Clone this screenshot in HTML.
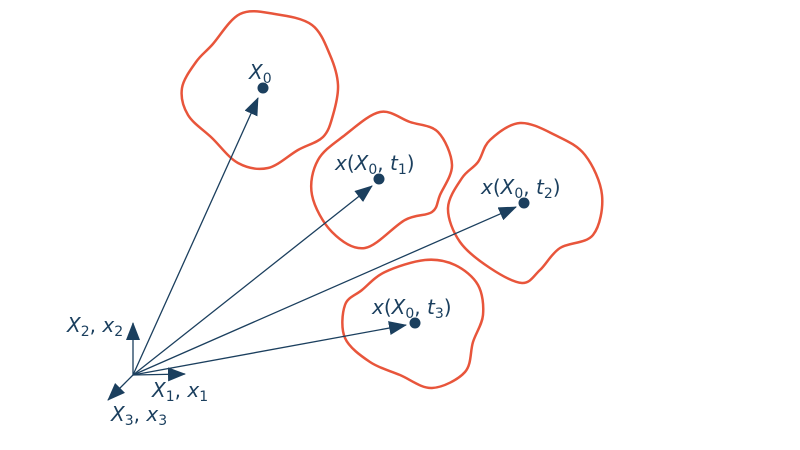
<!DOCTYPE html>
<html><head><meta charset="utf-8"><style>
html,body{margin:0;padding:0;background:#fff;}
svg{display:block;}
text{font-family:"DejaVu Sans","Liberation Sans",sans-serif;fill:#1b3f5e;}
.i{font-style:oblique;}
</style></head><body>
<svg id="s" width="800" height="450" viewBox="0 0 800 450" xmlns="http://www.w3.org/2000/svg">
<defs>
<marker id="b" markerWidth="18" markerHeight="14" refX="17" refY="7" orient="auto" markerUnits="userSpaceOnUse">
<path d="M0,0 L18,7 L0,14 Z" fill="#1b3f5e"/>
</marker>
</defs>
<g id="blobs" fill="none" stroke="#e8553b" stroke-width="2.5"></g>
<g stroke="#1b3f5e" stroke-width="1.3">
<line x1="133" y1="375" x2="258" y2="98" marker-end="url(#b)"/>
<line x1="133" y1="375" x2="372" y2="186" marker-end="url(#b)"/>
<line x1="133" y1="375" x2="516" y2="207" marker-end="url(#b)"/>
<line x1="133" y1="375" x2="406" y2="325" marker-end="url(#b)"/>
<line x1="133" y1="375" x2="133" y2="323" marker-end="url(#b)"/>
<line x1="133" y1="375" x2="185" y2="374" marker-end="url(#b)"/>
<line x1="133" y1="375" x2="108" y2="400" marker-end="url(#b)"/>
</g>
<g fill="#1b3f5e">
<circle cx="263" cy="88" r="5.5"/>
<circle cx="379" cy="179" r="5.5"/>
<circle cx="524" cy="203" r="5.5"/>
<circle cx="415" cy="323" r="5.5"/>
</g>
<g font-size="20">
<text x="249" y="79"><tspan class="i">X</tspan><tspan font-size="14" dy="4">0</tspan></text>
<text x="335" y="170"><tspan class="i">x</tspan>(<tspan class="i">X</tspan><tspan font-size="14" dy="4">0</tspan><tspan dy="-4">, </tspan><tspan class="i">t</tspan><tspan font-size="14" dy="4">1</tspan><tspan dy="-4">)</tspan></text>
<text x="481" y="194"><tspan class="i">x</tspan>(<tspan class="i">X</tspan><tspan font-size="14" dy="4">0</tspan><tspan dy="-4">, </tspan><tspan class="i">t</tspan><tspan font-size="14" dy="4">2</tspan><tspan dy="-4">)</tspan></text>
<text x="372" y="314"><tspan class="i">x</tspan>(<tspan class="i">X</tspan><tspan font-size="14" dy="4">0</tspan><tspan dy="-4">, </tspan><tspan class="i">t</tspan><tspan font-size="14" dy="4">3</tspan><tspan dy="-4">)</tspan></text>
<text x="67" y="332"><tspan class="i">X</tspan><tspan font-size="14" dy="4">2</tspan><tspan dy="-4">, </tspan><tspan class="i">x</tspan><tspan font-size="14" dy="4">2</tspan></text>
<text x="152" y="397"><tspan class="i">X</tspan><tspan font-size="14" dy="4">1</tspan><tspan dy="-4">, </tspan><tspan class="i">x</tspan><tspan font-size="14" dy="4">1</tspan></text>
<text x="111" y="421"><tspan class="i">X</tspan><tspan font-size="14" dy="4">3</tspan><tspan dy="-4">, </tspan><tspan class="i">x</tspan><tspan font-size="14" dy="4">3</tspan></text>
</g>
</svg>
<script>
var blobs=[
[[212,45],[240,14],[275,14],[312,25],[330,55],[338,85],[333,115],[323,137],[298,150],[268,168],[238,163],[212,138],[188,115],[182,88],[196,62]],
[[345,135],[380,112],[410,122],[438,132],[452,165],[440,195],[432,212],[405,220],[365,248],[332,232],[312,195],[318,160]],
[[490,140],[520,123],[555,135],[585,155],[602,195],[593,235],[560,248],[540,270],[522,283],[490,268],[460,242],[448,208],[462,178],[478,162]],
[[385,272],[425,260],[455,265],[478,285],[483,315],[473,342],[465,372],[432,388],[400,375],[370,362],[345,338],[345,305],[362,290]]
];
var g=document.getElementById('blobs');
blobs.forEach(function(p){
 var n=p.length,d='M'+p[0][0]+','+p[0][1];
 for(var i=0;i<n;i++){
  var p0=p[(i-1+n)%n],p1=p[i],p2=p[(i+1)%n],p3=p[(i+2)%n];
  var c1=[p1[0]+(p2[0]-p0[0])/6,p1[1]+(p2[1]-p0[1])/6];
  var c2=[p2[0]-(p3[0]-p1[0])/6,p2[1]-(p3[1]-p1[1])/6];
  d+=' C'+c1+' '+c2+' '+p2;
 }
 var e=document.createElementNS('http://www.w3.org/2000/svg','path');
 e.setAttribute('d',d+'Z');g.appendChild(e);
});
</script>
</body></html>
